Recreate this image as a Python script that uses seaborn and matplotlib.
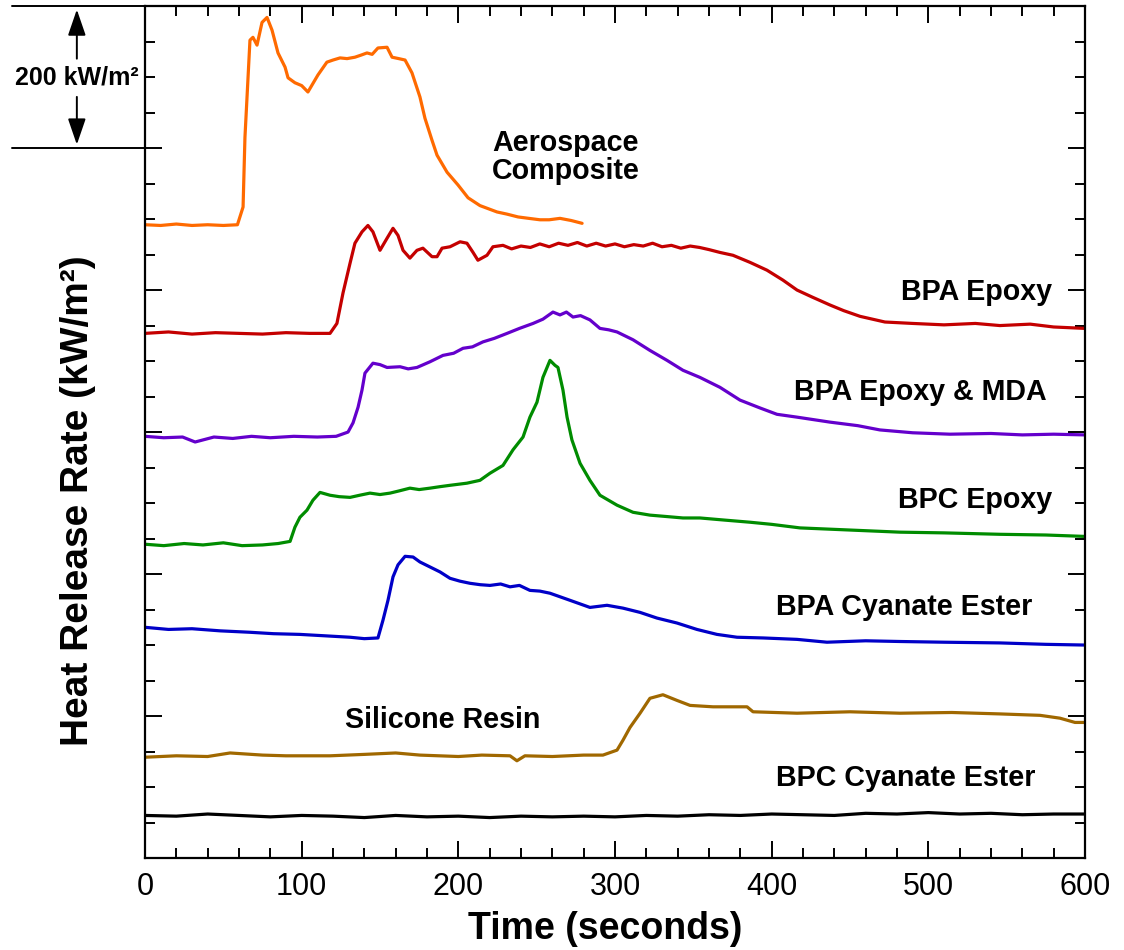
import numpy as np
import pandas as pd
import seaborn as sns
import matplotlib.pyplot as plt
from matplotlib.ticker import MultipleLocator
import matplotlib.transforms as mtransforms

sns.set_style('ticks')
plt.rcParams['font.family'] = ['Liberation Sans', 'DejaVu Sans']
plt.rcParams['text.color'] = 'black'
plt.rcParams['axes.labelcolor'] = 'black'
plt.rcParams['xtick.color'] = 'black'
plt.rcParams['ytick.color'] = 'black'

# curves are stacked with an offset, values in kW/m2 on the shared scale
aero_t = [0, 10, 20, 30, 40, 50, 59, 62.6, 63.8, 67, 68.9, 71.5, 74.7, 77.9, 81.1, 84.9, 89.4, 91.3,
          95.7, 100, 104, 110.4, 116.1, 120, 124.5, 129, 134, 138, 141.7, 145, 148.7, 154.5, 157.7,
          162, 166, 170.4, 175.5, 178.7, 183.2, 186.4, 192.8, 199.8, 206.2, 213.8, 224.7, 231,
          238.1, 245, 252.1, 258, 264.9, 272, 279]
aero_v = [892, 891, 893, 891, 892, 891, 892, 917, 1015, 1152, 1156, 1145, 1177, 1184, 1166, 1134, 1114, 1099,
          1092, 1088, 1079, 1103, 1121, 1124, 1127, 1126, 1128, 1131, 1134, 1132, 1141, 1142, 1128,
          1126, 1124, 1106, 1072, 1042, 1011, 990, 966, 948, 930, 919, 910, 907,
          903, 901, 899, 899, 901, 898, 894]

bpa_t = [0, 15, 30, 45, 60, 75, 90, 105, 118.1, 122.5, 126.4, 130.9, 134, 138.5, 142.3, 145.5, 150,
         154.5, 158.3, 161.5, 164.7, 169.1, 173.6, 177.4, 183.2, 186.4, 189.6, 194.7, 201.1, 205.5,
         209.4, 212.5, 218.3, 222.1, 228.5, 234, 240, 246, 252, 258, 264, 270, 276, 282, 288, 294,
         300, 306, 312, 318, 324, 330, 336, 342, 348, 354, 360, 367, 375.3, 386.2, 397, 407.2, 416.2,
         426, 437.2, 446, 456.4, 472.3, 490, 510, 530, 545.7, 565, 580, 600]
bpa_v = [739, 741, 738, 740, 739, 738, 740, 739, 739, 753, 796, 838, 866, 882, 891, 882, 856,
         873, 887, 877, 856, 845, 856, 859, 847, 847, 859, 861, 868, 866,
         853, 842, 849, 861, 863, 858, 862, 860, 865, 861, 866, 863, 867, 862, 866, 862,
         865, 861, 864, 862, 866, 861, 863, 859, 862, 860, 857, 853, 849, 839, 828, 814, 800,
         790, 779, 771, 763, 755, 753, 751, 753, 750, 752, 748, 746]

mda_t = [0, 12, 24, 32, 44, 56, 68, 80, 95, 110, 122, 129.6, 132.8, 136, 138.5, 140.4, 145.5, 150,
         154.5, 162.8, 168, 173.6, 181.9, 190.2, 197, 203, 209, 215.7, 223, 231.1, 239, 247.7, 254,
         260.4, 264.9, 269, 273.2, 278, 284, 290.4, 296, 301.3, 311.5, 322.3, 333.2, 343.4, 354.2,
         367, 379.8, 392.5, 403.4, 416.2, 437.2, 455, 469.1, 490, 513.8, 540, 560, 580, 600]
mda_v = [594, 592, 593, 586, 593, 591, 594, 592, 594, 593, 594, 600, 613, 635, 659, 683, 697, 695,
         691, 692, 689, 691, 699, 708, 711, 718, 720, 727, 732, 739, 746, 753, 759,
         769, 765, 769, 762, 764, 758, 746, 744, 741, 730, 715, 701, 687, 677,
         663, 645, 634, 625, 621, 614, 609, 603, 599, 597, 598, 596, 597, 596]

bpc_t = [0, 12, 25, 37, 50, 62, 75, 85, 92.6, 95.7, 98.9, 103.4, 107.2, 111.7, 118.1, 124, 130.9, 137,
         143.6, 150, 156.4, 162, 169.1, 175, 181.9, 188, 194.7, 205.5, 213.8, 220.2, 228.5, 234.9,
         241.3, 245.7, 250.2, 254, 258.5, 261.7, 263.6, 266.8, 269.4, 272.5, 277.7, 284, 290.4,
         301.3, 311.5, 322.3, 333, 343.4, 354.2, 370, 386.2, 400, 418.1, 450, 481.9, 510, 545.7,
         575, 600]
bpc_v = [442, 440, 443, 441, 444, 440, 441, 443, 446, 466, 480, 490, 504, 515, 511, 509, 508, 511,
         514, 512, 514, 517, 521, 519, 521, 523, 525, 528, 532, 542, 553, 575,
         593, 621, 642, 677, 701, 694, 691, 659, 621, 589, 556, 532, 511,
         497, 487, 483, 481, 479, 479, 476, 473, 470, 465, 462, 459, 458, 456,
         455, 453]

bcy_t = [0, 15, 30, 48, 67, 82, 98.9, 115, 130.9, 140, 148.7, 151.9, 155.1, 158.3, 161.5, 166, 171.1,
         175.5, 181.9, 188.3, 194.7, 201, 207.4, 214, 220.2, 227, 233, 239, 245.7, 252, 258.5,
         271.3, 284, 294.9, 305.1, 316, 326.8, 339.6, 352.3, 365.1, 377.9, 394.5, 416.2, 435.3,
         460, 481.9, 510, 545.7, 575, 600]
bcy_v = [325, 322, 323, 320, 318, 316, 315, 313, 311, 309, 310, 335, 363, 396, 413, 425, 424,
         417, 410, 403, 394, 390, 387, 385, 384, 386, 382, 384, 377, 376, 373,
         363, 353, 356, 352, 346, 338, 331, 322, 315, 311, 310, 308, 304,
         306, 305, 304, 303, 301, 300]

sil_t = [0, 20, 40, 54.3, 75, 90, 118.1, 140, 160, 175.5, 200, 215, 233, 237.4, 242.5, 260, 280,
         292.3, 301.3, 305.1, 309.6, 316, 322.3, 330.6, 339.6, 347.9, 362.6, 384.3, 388.1, 416.2,
         450, 481.9, 515, 545.7, 571.3, 584, 593.6, 600]
sil_v = [142, 144, 143, 148, 145, 144, 144, 146, 148, 145, 143, 145, 144, 137, 144, 143, 145,
         145, 152, 166, 184, 204, 225, 230, 222, 215, 213, 213, 206, 204,
         206, 204, 205, 203, 201, 197, 191, 191]

bcc_t = [0, 20, 40, 60, 80, 100, 120, 140, 160, 180, 200, 220, 240, 260, 280, 300,
         320, 340, 360, 380, 400, 420, 440, 460, 480, 500, 520, 540, 560, 580, 600]
bcc_v = [60, 59, 62, 60, 58, 60, 59, 57, 60, 58, 59, 57, 59, 58, 59, 58,
         60, 59, 61, 60, 62, 61, 60, 63, 62, 64, 62, 63, 61, 62, 62]

series = [
    ('Aerospace Composite', aero_t, aero_v, '#ff6a00'),
    ('BPA Epoxy', bpa_t, bpa_v, '#c40000'),
    ('BPA Epoxy & MDA', mda_t, mda_v, '#6400cc'),
    ('BPC Epoxy', bpc_t, bpc_v, '#008c00'),
    ('BPA Cyanate Ester', bcy_t, bcy_v, '#0000c8'),
    ('Silicone Resin', sil_t, sil_v, '#a06800'),
    ('BPC Cyanate Ester', bcc_t, bcc_v, '#000000'),
]

# label text, anchor x (s), center y (offset kW/m2), alignment
labels = [
    ('Aerospace\nComposite', 221.5, 987, 'left'),
    ('BPA Epoxy', 579, 797, 'right'),
    ('BPA Epoxy & MDA', 575.7, 656, 'right'),
    ('BPC Epoxy', 579, 504, 'right'),
    ('BPA Cyanate Ester', 402.8, 353, 'left'),
    ('Silicone Resin', 127.7, 194, 'left'),
    ('BPC Cyanate Ester', 402.8, 113, 'left'),
]

fig = plt.figure(figsize=(11.24, 9.5), dpi=100)
ax = fig.add_axes([0.129, 0.0968, 0.8363, 0.8968])

for name, t, v, c in series:
    sns.lineplot(x=t, y=v, color=c, linewidth=2.3, ax=ax, estimator=None, sort=False)

for txt, x, y, ha in labels:
    ax.text(x, y, txt, fontsize=20.6, fontweight='bold', ha=ha, va='center', linespacing=1.0)

ax.set_xlim(0, 600)
ax.set_ylim(0, 1200)
ax.xaxis.set_major_locator(MultipleLocator(100))
ax.xaxis.set_minor_locator(MultipleLocator(20))
ax.yaxis.set_major_locator(MultipleLocator(200))
ax.yaxis.set_minor_locator(MultipleLocator(50))
ax.set_yticklabels([])
ax.tick_params(which='both', direction='in', top=True, right=True, width=1.4, colors='black')
ax.tick_params(which='major', length=12)
ax.tick_params(which='minor', length=7)
ax.tick_params(axis='x', labelsize=22, pad=10)
for s in ax.spines.values():
    s.set_linewidth(1.6)
    s.set_color('black')

ax.set_xlabel('Time (seconds)', fontsize=27, fontweight='bold')
ax.xaxis.set_label_coords(0.49, -0.062, transform=ax.transAxes)
ax.xaxis.label.set_va('top')
ax.set_ylabel('Heat Release Rate (kW/m²)', fontsize=28, fontweight='bold')
ax.yaxis.set_label_coords(-0.052, 0.42)

# 200 kW/m2 scale bar to the left of the axes
trans = mtransforms.blended_transform_factory(ax.transAxes, ax.transData)
ax.plot([-0.1415, 0], [1200, 1200], color='black', lw=1.4, transform=trans, clip_on=False)
ax.plot([-0.1415, 0], [1000, 1000], color='black', lw=1.4, transform=trans, clip_on=False)
arrow = dict(arrowstyle='-|>,head_length=1.6,head_width=0.55', color='black', lw=1.4)
ax.annotate('', xy=(-0.0725, 1199), xytext=(-0.0725, 1122), xycoords=trans, textcoords=trans,
            arrowprops=arrow, annotation_clip=False)
ax.annotate('', xy=(-0.0725, 1001), xytext=(-0.0725, 1076), xycoords=trans, textcoords=trans,
            arrowprops=arrow, annotation_clip=False)
ax.text(-0.0725, 1099, '200 kW/m²', transform=trans, fontsize=18, fontweight='bold',
        ha='center', va='center')

fig.savefig('out.png', dpi=100)
